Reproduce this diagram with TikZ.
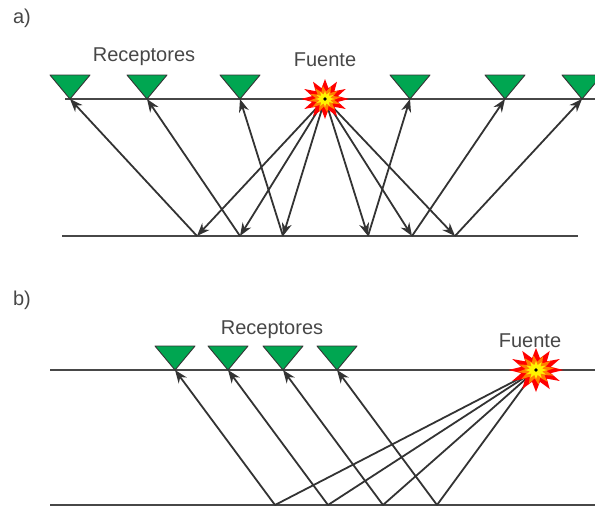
\documentclass[tikz,border=0pt]{standalone}
\usepackage{fontspec}
\setmainfont{Liberation Sans}
\usetikzlibrary{arrows.meta,shapes.geometric}
\definecolor{recgreen}{RGB}{0,166,81}
\definecolor{ink}{RGB}{51,51,51}
\tikzset{
  rec/.style={fill=recgreen, draw=ink, line width=0.9pt},
  ray/.style={line width=1.8pt, draw=ink},
  layer/.style={line width=2.3pt, draw=ink!90!white},
  lbl/.style={font=\fontsize{20}{24}\selectfont, text=ink!90!white},
  blast/.style={star, star points=12, star point ratio=1.8, inner sep=0pt},
}

\begin{document}
\begin{tikzpicture}[x=1pt, y=-1pt, line join=round, >={Stealth[length=13pt,width=10pt]}]
\useasboundingbox (0,0) rectangle (595,507);
% a) shot in the middle of the spread
\path
  (325,99) coordinate (Sa)
  (65,99) coordinate (Ta) (595,99) coordinate (Ta')
  (62,236) coordinate (Ba) (578,236) coordinate (Ba')
  \foreach \i/\x/\m in {1/70/197,2/147/240,3/240/283,4/410/368,5/505/412,6/582/455}{(\x,99) coordinate (Ra\i) (\m,236) coordinate (Ma\i)}
  ;
\draw[layer] (Ta)--(Ta') (Ba)--(Ba');
\foreach \i in {1,...,6}{
  \draw[ray,->] (Sa)--(Ma\i);
  \draw[ray,->] (Ma\i)--(Ra\i);
  \draw[rec] (Ra\i) -- ++(-20,-24) -- ++(40,0) -- cycle;
}
\begin{scope}[shift={(Sa)}, xscale=1.2, transform shape]
  \node[blast, minimum size=40pt, fill=red] (blastA) at (0,0) {};
  \node[blast, minimum size=27pt, fill=orange, rotate=8] at (0,0) {};
  \node[blast, minimum size=16pt, fill=yellow] at (0,0) {};
\end{scope}
\fill[black] (Sa) circle (1.8);
\node[lbl] (tagA) at (22,18) {a)};
\node[lbl] (recA) at (144,57) {Receptores};
\node[lbl] (srcA) at (325,60) {Fuente};

% b) shot at the end of the spread
\path
  (536,370) coordinate (Sb)
  (50,370) coordinate (Tb) (595,370) coordinate (Tb')
  (50,505) coordinate (Bb) (595,505) coordinate (Bb')
  \foreach \i/\x/\m in {1/175/275,2/228/328,3/283/383,4/337/437}{(\x,370) coordinate (Rb\i) (\m,505) coordinate (Mb\i)}
  ;
\draw[layer] (Tb)--(Tb') (Bb)--(Bb');
\foreach \i in {1,...,4}{
  \draw[ray] (Sb)--(Mb\i);
  \draw[ray,->] (Mb\i)--(Rb\i);
  \draw[rec] (Rb\i) -- ++(-20,-24) -- ++(40,0) -- cycle;
}
\begin{scope}[shift={(Sb)}, xscale=1.25, transform shape]
  \node[blast, minimum size=44pt, fill=red] (blastB) at (0,0) {};
  \node[blast, minimum size=30pt, fill=orange, rotate=8] at (0,0) {};
  \node[blast, minimum size=18pt, fill=yellow] at (0,0) {};
\end{scope}
\fill[black] (Sb) circle (1.8);
\node[lbl] (tagB) at (22,300) {b)};
\node[lbl] (recB) at (272,330) {Receptores};
\node[lbl] (srcB) at (530,341) {Fuente};
\end{tikzpicture}
\end{document}
